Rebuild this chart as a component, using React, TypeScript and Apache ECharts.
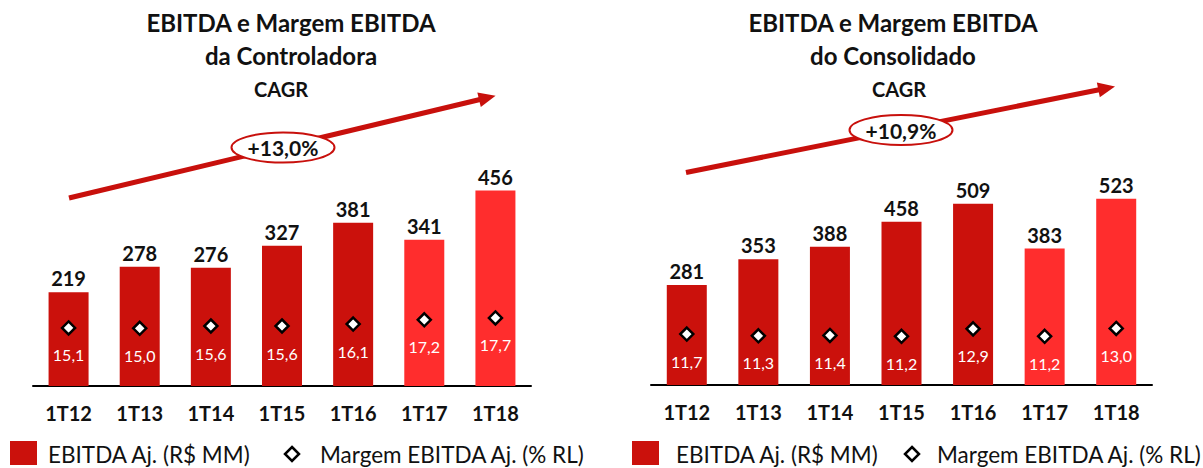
import React, { useEffect, useRef } from "react";
import * as echarts from "echarts";

const categories = ["1T12", "1T13", "1T14", "1T15", "1T16", "1T17", "1T18"];
const ctrlEbitda = [219, 278, 276, 327, 381, 341, 456];
const ctrlMargin = [15.1, 15.0, 15.6, 15.6, 16.1, 17.2, 17.7];
const consEbitda = [281, 353, 388, 458, 509, 383, 523];
const consMargin = [11.7, 11.3, 11.4, 11.2, 12.9, 11.2, 13.0];
const highlighted = ["1T17", "1T18"];
const ctrlTitle = "EBITDA e Margem EBITDA\nda Controladora";
const consTitle = "EBITDA e Margem EBITDA\ndo Consolidado";
const ctrlCagr = "+13,0%";
const consCagr = "+10,9%";
const legendBar = "EBITDA Aj. (R$ MM)";
const legendMargin = "Margem EBITDA Aj. (% RL)";

const DARK = "#CB110C";
const LIGHT = "#FF2D2D";
const ARROW = "#C8100C";
const FONT = "Lato";

function barData(vals: number[]) {
  return vals.map((v, i) => ({
    value: v,
    itemStyle: { color: highlighted.includes(categories[i]) ? LIGHT : DARK },
  }));
}

function arrow(x0: number, y0: number, x1: number, y1: number) {
  const dx = x1 - x0;
  const dy = y1 - y0;
  const len = Math.hypot(dx, dy);
  const ux = dx / len;
  const uy = dy / len;
  const hl = 17;
  const hw = 7.5;
  const bx = x1 - ux * hl;
  const by = y1 - uy * hl;
  const nx = -uy;
  const ny = ux;
  return [
    {
      type: "line",
      shape: { x1: x0, y1: y0, x2: bx + ux * 2, y2: by + uy * 2 },
      style: { stroke: ARROW, lineWidth: 5 },
    },
    {
      type: "polygon",
      shape: {
        points: [
          [x1, y1],
          [bx + nx * hw, by + ny * hw],
          [bx - nx * hw, by - ny * hw],
        ],
      },
      style: { fill: ARROW },
    },
  ];
}

function ellipseLabel(cx: number, cy: number, text: string) {
  return [
    {
      type: "ellipse",
      shape: { cx, cy, rx: 51.5, ry: 15 },
      style: { fill: "#fff", stroke: ARROW, lineWidth: 2 },
    },
    {
      type: "text",
      x: cx,
      y: cy,
      style: {
        text,
        fill: "#111",
        font: `bold 21px ${FONT}`,
        textAlign: "center",
        textVerticalAlign: "middle",
      },
    },
  ];
}

function legend(sqX: number, textX: number, diaX: number, text2X: number) {
  const cy = 454;
  return [
    { type: "rect", shape: { x: sqX, y: 441, width: 27, height: 24 }, style: { fill: DARK } },
    {
      type: "text",
      x: textX,
      y: cy,
      style: { text: legendBar, fill: "#111", font: `22.5px ${FONT}`, textVerticalAlign: "middle" },
    },
    {
      type: "polygon",
      shape: {
        points: [
          [diaX, cy - 7],
          [diaX + 7, cy],
          [diaX, cy + 7],
          [diaX - 7, cy],
        ],
      },
      style: { fill: "#fff", stroke: "#000", lineWidth: 2.5 },
    },
    {
      type: "text",
      x: text2X,
      y: cy,
      style: { text: legendMargin, fill: "#111", font: `22.5px ${FONT}`, textVerticalAlign: "middle" },
    },
  ];
}

function titleTexts(cx: number, cagrX: number, text: string) {
  return [
    {
      type: "text",
      x: cx,
      y: 39,
      style: {
        text,
        fill: "#111",
        font: `bold 24px ${FONT}`,
        textAlign: "center",
        textVerticalAlign: "middle",
        lineHeight: 33,
      },
    },
    {
      type: "text",
      x: cagrX,
      y: 89,
      style: {
        text: "CAGR",
        fill: "#111",
        font: `bold 20px ${FONT}`,
        textAlign: "center",
        textVerticalAlign: "middle",
      },
    },
  ];
}

export default function App() {
  const ref = useRef<HTMLDivElement>(null);
  useEffect(() => {
    if (!ref.current) return;
    const chart = echarts.init(ref.current, null, { renderer: "svg" });
    const marginLabel = {
      show: true,
      position: "inside",
      offset: [0, 27],
      color: "#fff",
      fontSize: 16,
      fontFamily: FONT,
      opacity: 1,
      formatter: (p: any) => Number(p.value).toFixed(1).replace(".", ","),
    };
    const valueLabel = {
      show: true,
      position: "top",
      distance: 4,
      color: "#111",
      fontSize: 20,
      fontWeight: "bold",
      fontFamily: FONT,
    };
    const xAxisBase = {
      type: "category",
      data: categories,
      axisLine: { lineStyle: { color: "#000", width: 2 } },
      axisTick: { show: false },
      axisLabel: { color: "#111", fontSize: 20, fontWeight: "bold", fontFamily: FONT, margin: 17 },
    };
    const diamondStyle = { color: "#fff", borderColor: "#000", borderWidth: 2.5, opacity: 1 };
    chart.setOption({
      animation: false,
      textStyle: { fontFamily: FONT },
      grid: [
        { left: 33, top: 86, width: 498, height: 300 },
        { left: 651, top: 100, width: 501, height: 285 },
      ],
      xAxis: [
        { ...xAxisBase, gridIndex: 0 },
        { ...xAxisBase, gridIndex: 1 },
      ],
      yAxis: [
        { type: "value", gridIndex: 0, min: 0, max: 700, show: false },
        { type: "value", gridIndex: 0, min: 0, max: 78, show: false },
        { type: "value", gridIndex: 1, min: 0, max: 800, show: false },
        { type: "value", gridIndex: 1, min: 0, max: 65.5, show: false },
      ],
      series: [
        {
          type: "bar",
          name: legendBar,
          xAxisIndex: 0,
          yAxisIndex: 0,
          barWidth: 40,
          data: barData(ctrlEbitda),
          label: valueLabel,
        },
        {
          type: "scatter",
          name: legendMargin,
          xAxisIndex: 0,
          yAxisIndex: 1,
          symbol: "diamond",
          symbolSize: 13,
          itemStyle: diamondStyle,
          data: ctrlMargin,
          label: marginLabel,
          z: 5,
        },
        {
          type: "bar",
          name: legendBar,
          xAxisIndex: 1,
          yAxisIndex: 2,
          barWidth: 40,
          data: barData(consEbitda),
          label: valueLabel,
        },
        {
          type: "scatter",
          name: legendMargin,
          xAxisIndex: 1,
          yAxisIndex: 3,
          symbol: "diamond",
          symbolSize: 13,
          itemStyle: diamondStyle,
          data: consMargin,
          label: marginLabel,
          z: 5,
        },
      ],
      graphic: [
        ...titleTexts(291, 281, ctrlTitle),
        ...titleTexts(893, 899, consTitle),
        ...arrow(69, 198, 495.6, 95.8),
        ...arrow(686, 172.5, 1115, 86.5),
        ...ellipseLabel(283, 147.5, ctrlCagr),
        ...ellipseLabel(901, 130, consCagr),
        ...legend(10, 48, 292, 320),
        ...legend(632, 676, 912, 937),
      ],
    });
    return () => chart.dispose();
  }, []);
  return (
    <div
      ref={ref}
      style={{ position: "fixed", left: 0, top: 0, width: 1203, height: 468, background: "#fff" }}
    />
  );
}
